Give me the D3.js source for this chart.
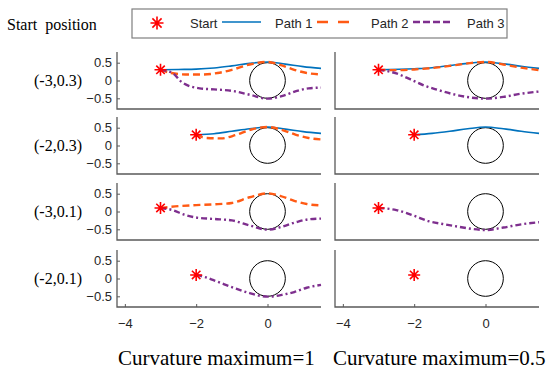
<!DOCTYPE html>
<html>
<head>
<meta charset="utf-8">
<script src="https://cdn.jsdelivr.net/npm/d3@7"></script>
<style>
  body { margin: 0; background: #fff; }
  svg { display: block; }
  .serif { font-family: "Liberation Serif", "Times New Roman", serif; fill: #000; }
  .sans { font-family: "Liberation Sans", Arial, sans-serif; fill: #262626; }
</style>
</head>
<body>
<div id="chart"></div>
<script>
// ---- data ----
const columnTitles = ['Curvature maximum=1', 'Curvature maximum=0.5'];
const rowLabels = ['(-3,0.3)', '(-2,0.3)', '(-3,0.1)', '(-2,0.1)'];
const startPoints = [[-3, 0.3], [-2, 0.3], [-3, 0.1], [-2, 0.1]];
const xTicks = [-4, -2, 0];
const yTicks = [-0.5, 0, 0.5];
const obstacle = { x: 0, y: 0, r: 0.5 };

// one entry per row; null = path not drawn in that panel
const path1K1 = [
  [[-3, 0.3], [-2.5, 0.31], [-2, 0.32], [-1.5, 0.35], [-1, 0.41], [-0.5, 0.48], [0, 0.52], [0.5, 0.46], [1, 0.39], [1.5, 0.34]],
  [[-2, 0.3], [-1.5, 0.33], [-1, 0.4], [-0.5, 0.47], [0, 0.52], [0.5, 0.46], [1, 0.39], [1.5, 0.34]],
  null,
  null,
];
const path2K1 = [
  [[-3, 0.3], [-2.7, 0.21], [-2.3, 0.17], [-1.8, 0.17], [-1.4, 0.21], [-1, 0.3], [-0.5, 0.45], [0, 0.52], [0.35, 0.44], [0.75, 0.3], [1.1, 0.21], [1.5, 0.17]],
  [[-2, 0.3], [-1.7, 0.21], [-1.3, 0.2], [-0.9, 0.29], [-0.45, 0.45], [0, 0.52], [0.4, 0.44], [0.8, 0.3], [1.15, 0.21], [1.5, 0.17]],
  [[-3, 0.1], [-2.5, 0.15], [-2, 0.18], [-1.5, 0.2], [-1, 0.24], [-0.5, 0.4], [0, 0.51], [0.35, 0.44], [0.75, 0.3], [1.1, 0.21], [1.5, 0.17]],
  null,
];
const path3K1 = [
  [[-3, 0.3], [-2.65, 0.2], [-2.4, -0.05], [-1.9, -0.22], [-1.5, -0.25], [-1, -0.29], [-0.5, -0.4], [0, -0.51], [0.4, -0.44], [0.8, -0.3], [1.15, -0.22], [1.5, -0.2]],
  null,
  [[-3, 0.1], [-2.7, 0.05], [-2.3, -0.1], [-2, -0.17], [-1.5, -0.21], [-1, -0.25], [-0.5, -0.39], [0, -0.51], [0.4, -0.43], [0.8, -0.3], [1.15, -0.22], [1.5, -0.2]],
  [[-2, 0.1], [-1.75, 0.04], [-1.4, -0.09], [-0.95, -0.26], [-0.5, -0.41], [0, -0.51], [0.4, -0.46], [0.75, -0.38], [1.1, -0.26], [1.5, -0.18]],
];
const path1K05 = [
  [[-3, 0.3], [-2, 0.33], [-1.5, 0.36], [-1, 0.42], [-0.5, 0.48], [0, 0.52], [0.5, 0.47], [1, 0.4], [1.5, 0.34]],
  [[-2, 0.3], [-1.5, 0.34], [-1, 0.4], [-0.5, 0.47], [0, 0.52], [0.5, 0.47], [1, 0.4], [1.5, 0.34]],
  null,
  null,
];
const path2K05 = [
  [[-3, 0.3], [-2.5, 0.29], [-2, 0.31], [-1.5, 0.35], [-1, 0.41], [-0.5, 0.48], [0, 0.52], [0.5, 0.45], [1, 0.36], [1.5, 0.29]],
  null,
  null,
  null,
];
const path3K05 = [
  [[-3, 0.3], [-2.5, 0.2], [-2.1, 0.03], [-1.7, -0.15], [-1.35, -0.26], [-0.7, -0.43], [0, -0.51], [0.5, -0.46], [1, -0.37], [1.5, -0.31]],
  null,
  [[-3, 0.1], [-2.5, 0.04], [-2, -0.12], [-1.6, -0.27], [-1.2, -0.35], [-0.8, -0.42], [0, -0.52], [0.5, -0.45], [1, -0.36], [1.5, -0.3]],
  null,
];

const series = [
  { name: 'Path 1', color: '#0072bd', dash: null,      data: [path1K1, path1K05] },
  { name: 'Path 2', color: '#ff5a14', dash: '7,4',     data: [path2K1, path2K05] },
  { name: 'Path 3', color: '#7e2f8e', dash: '6,3,2,3', data: [path3K1, path3K05] },
];

// ---- layout ----
const width = 550, height = 371;
const colLeft = [117, 335];
const panelW = 204;
const rowTop = [52, 117, 183, 250];
const panelH = 57;

const svg = d3.select('#chart').append('svg')
  .attr('width', width)
  .attr('height', height);

// asterisk marker (MATLAB '*': plus + cross)
function drawStar(g, cx, cy, s) {
  const d = [];
  for (let i = 0; i < 4; i++) {
    const a = i * Math.PI / 4;
    const dx = Math.sin(a) * s, dy = Math.cos(a) * s;
    d.push(`M${cx - dx},${cy - dy}L${cx + dx},${cy + dy}`);
  }
  g.append('path')
    .attr('d', d.join(''))
    .attr('stroke', '#ff0000')
    .attr('stroke-width', 1.6)
    .attr('fill', 'none');
}

columnTitles.forEach((title, ci) => {
  const x = d3.scaleLinear().domain([-4.22, 1.5]).range([colLeft[ci], colLeft[ci] + panelW]);

  rowLabels.forEach((lbl, ri) => {
    const y = d3.scaleLinear().domain([-0.8, 0.8]).range([rowTop[ri] + panelH, rowTop[ri]]);
    const g = svg.append('g');

    // axes lines (left + bottom only)
    g.append('path')
      .attr('d', `M${x.range()[0]},${y.range()[1]}V${y.range()[0]}H${x.range()[1]}`)
      .attr('fill', 'none')
      .attr('stroke', '#595959')
      .attr('stroke-width', 1.3);

    if (ci === 0) {
      const yAxis = d3.axisLeft(y).tickValues(yTicks).tickSize(-3).tickPadding(5)
        .tickFormat(d => d === 0 ? '0' : d3.format('.1f')(d));
      const ya = g.append('g').attr('transform', `translate(${x.range()[0]},0)`).call(yAxis);
      ya.select('.domain').remove();
      ya.selectAll('line').attr('stroke', '#595959');
      ya.selectAll('text').attr('class', 'sans').style('font-size', '13px').attr('fill', '#262626');
    }

    if (ri === rowLabels.length - 1) {
      const xAxis = d3.axisBottom(x).tickValues(xTicks).tickSize(-3).tickPadding(12)
        .tickFormat(d3.format('d'));
      const xa = g.append('g').attr('transform', `translate(0,${y.range()[0]})`).call(xAxis);
      xa.select('.domain').remove();
      xa.selectAll('line').attr('stroke', '#595959');
      xa.selectAll('text').attr('class', 'sans').style('font-size', '13px').attr('fill', '#262626');
    }

    // obstacle circle
    g.append('ellipse')
      .attr('cx', x(obstacle.x))
      .attr('cy', y(obstacle.y))
      .attr('rx', x(obstacle.r) - x(0))
      .attr('ry', y(0) - y(obstacle.r))
      .attr('fill', 'none')
      .attr('stroke', '#000')
      .attr('stroke-width', 1);

    const line = d3.line().x(d => x(d[0])).y(d => y(d[1])).curve(d3.curveMonotoneX);

    series.forEach(s => {
      const pts = s.data[ci][ri];
      if (!pts) return;
      g.append('path')
        .attr('d', line(pts))
        .attr('fill', 'none')
        .attr('stroke', s.color)
        .attr('stroke-width', s.dash ? 2.4 : 1.6)
        .attr('stroke-dasharray', s.dash);
    });

    drawStar(g, x(startPoints[ri][0]), y(startPoints[ri][1]), 6);

    if (ci === 0) {
      svg.append('text')
        .attr('class', 'serif')
        .attr('x', 58)
        .attr('y', y(0) + 5)
        .attr('text-anchor', 'middle')
        .style('font-size', '16px')
        .text(lbl);
    }
  });

  svg.append('text')
    .attr('class', 'serif')
    .attr('x', colLeft[ci] + (ci === 0 ? 1 : -2))
    .attr('y', 365)
    .style('font-size', '21px')
    .text(title);
});

svg.append('text')
  .attr('class', 'serif')
  .attr('x', 7)
  .attr('y', 30)
  .style('font-size', '16px')
  .attr('xml:space', 'preserve')
  .text('Start  position');

// ---- legend ----
const legend = svg.append('g');
legend.append('rect')
  .attr('x', 132).attr('y', 9).attr('width', 375).attr('height', 29)
  .attr('fill', '#fff').attr('stroke', '#7f7f7f').attr('stroke-width', 1.2);

const ly = 24;
drawStar(legend, 157, ly - 1, 6.5);
const legendLabels = ['Start', 'Path 1', 'Path 2', 'Path 3'];
const labelX = [190, 275, 371, 467];
legendLabels.forEach((t, i) => {
  legend.append('text')
    .attr('class', 'sans')
    .attr('x', labelX[i])
    .attr('y', ly + 4)
    .style('font-size', '13px')
    .text(t);
});
const lineX = [[222, 261], [317, 349], [413, 452]];
series.forEach((s, i) => {
  legend.append('line')
    .attr('x1', lineX[i][0]).attr('x2', lineX[i][1])
    .attr('y1', ly - 2).attr('y2', ly - 2)
    .attr('stroke', s.color)
    .attr('stroke-width', s.dash ? 2.5 : 1.6)
    .attr('stroke-dasharray', i === 1 ? '11,10' : (i === 2 ? '7,3' : null));
});
</script>
</body>
</html>
